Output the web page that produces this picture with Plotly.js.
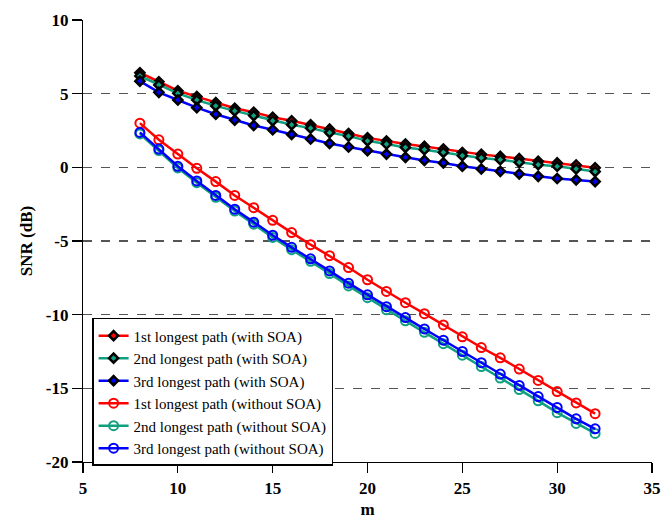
<!DOCTYPE html>
<html>
<head>
<meta charset="utf-8">
<script src="https://cdn.plot.ly/plotly-3.0.1.min.js"></script>
<style>html,body{margin:0;padding:0;background:#fff;}#chart{width:663px;height:520px;}</style>
</head>
<body>
<div id="chart"></div>
<script>
const m = [8,9,10,11,12,13,14,15,16,17,18,19,20,21,22,23,24,25,26,27,28,29,30,31,32];

const withSOA1 = [6.42,5.81,5.2,4.8,4.39,4.01,3.74,3.4,3.16,2.89,2.59,2.3,2.0,1.78,1.58,1.42,1.24,1.01,0.88,0.74,0.59,0.41,0.3,0.16,-0.03];
const withSOA2 = [6.2,5.59,5.02,4.57,4.17,3.83,3.51,3.16,2.89,2.66,2.36,2.12,1.8,1.58,1.35,1.2,1.01,0.79,0.64,0.52,0.34,0.18,0.07,-0.11,-0.29];
const withSOA3 = [5.85,5.09,4.57,4.05,3.6,3.2,2.84,2.55,2.23,1.92,1.62,1.38,1.13,0.9,0.68,0.47,0.3,0.07,-0.11,-0.27,-0.45,-0.61,-0.76,-0.85,-0.97];

const noSOA1 = [3.0,1.87,0.9,-0.07,-0.97,-1.91,-2.74,-3.6,-4.43,-5.25,-6.0,-6.8,-7.63,-8.42,-9.19,-9.93,-10.7,-11.5,-12.23,-12.93,-13.69,-14.46,-15.22,-15.99,-16.72];
const noSOA2 = [2.27,1.14,-0.04,-1.04,-2.03,-2.97,-3.86,-4.76,-5.59,-6.38,-7.21,-8.05,-8.85,-9.67,-10.42,-11.2,-11.97,-12.75,-13.52,-14.3,-15.08,-15.85,-16.65,-17.38,-18.06];
const noSOA3 = [2.37,1.24,0.07,-0.92,-1.91,-2.84,-3.72,-4.61,-5.43,-6.21,-7.03,-7.86,-8.65,-9.46,-10.2,-10.97,-11.73,-12.5,-13.26,-14.03,-14.8,-15.56,-16.3,-17.07,-17.75];

const names = [
  "1st longest path (with SOA)",
  "2nd longest path (with SOA)",
  "3rd longest path (with SOA)",
  "1st longest path (without SOA)",
  "2nd longest path (without SOA)",
  "3rd longest path (without SOA)"
];
const xTicks = [5,10,15,20,25,30,35];
const yTicks = [-20,-15,-10,-5,0,5,10];

const RED = "#ff0000", GREEN = "#10a080", BLUE = "#0000ff";
const cols = [RED, GREEN, BLUE, RED, GREEN, BLUE];
const ys = [withSOA1, withSOA2, withSOA3, noSOA1, noSOA2, noSOA3];

const traces = ys.map((y, i) => {
  const soa = i < 3;
  return {
    x: m, y: y, name: names[i], type: "scatter", mode: "lines+markers",
    line: {color: cols[i], width: 2.5},
    marker: soa
      ? {symbol: "diamond", size: 7, color: cols[i], line: {color: "#000", width: 2.5}}
      : {symbol: "circle-open", size: 9, color: cols[i], line: {color: cols[i], width: 2}}
  };
});

const SERIF = "'Times New Roman', 'Liberation Serif', Times, serif";
const axisFont = {family: SERIF, size: 17, color: "#000", weight: "bold"};

const layout = {
  width: 663, height: 520,
  font: {family: SERIF},
  margin: {l: 83, r: 11, t: 20, b: 58},
  paper_bgcolor: "#fff", plot_bgcolor: "#fff",
  showlegend: true,
  legend: {
    x: 0.016, y: 0.326, xanchor: "left", yanchor: "top",
    bgcolor: "#fff", bordercolor: "#000", borderwidth: 1.5,
    font: {family: SERIF, size: 15, color: "#000"},
    tracegroupgap: 0
  },
  xaxis: {
    range: [5, 35], tickvals: xTicks, ticktext: xTicks.map(String),
    showgrid: false, zeroline: false,
    showline: true, linecolor: "#000", linewidth: 1.2,
    ticks: "outside", ticklen: 10, tickcolor: "#000", tickwidth: 1.2,
    tickfont: axisFont,
    title: {text: "m", font: axisFont, standoff: 6}
  },
  yaxis: {
    range: [-20, 10], tickvals: yTicks, ticktext: yTicks.map(String),
    showgrid: true, gridcolor: "#555", griddash: "dash", gridwidth: 1.2,
    zeroline: false,
    showline: true, linecolor: "#000", linewidth: 1.2,
    ticks: "outside", ticklen: 10, tickcolor: "#000", tickwidth: 1.2,
    tickfont: axisFont,
    title: {text: "SNR (dB)", font: axisFont, standoff: 8}
  }
};

Plotly.newPlot("chart", traces, layout, {displayModeBar: false, staticPlot: true});
</script>
</body>
</html>
